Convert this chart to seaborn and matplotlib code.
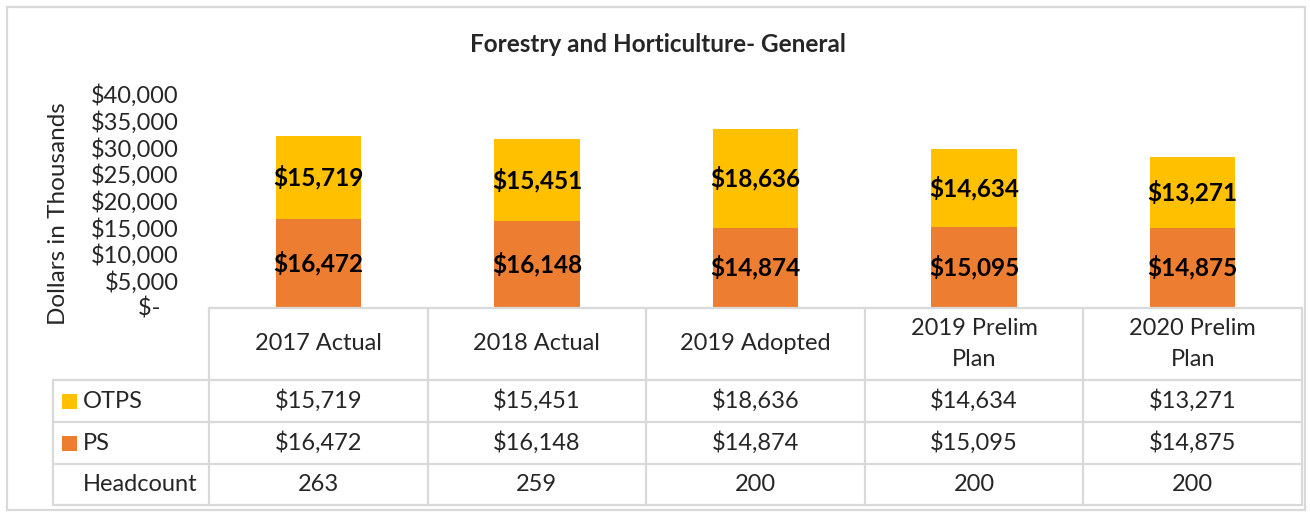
import matplotlib
matplotlib.use("Agg")
import matplotlib.pyplot as plt
import matplotlib.transforms as mtransforms
from matplotlib.lines import Line2D
from matplotlib.patches import Rectangle
import pandas as pd
import seaborn as sns

# data
categories = ["2017 Actual", "2018 Actual", "2019 Adopted", "2019 Prelim\nPlan", "2020 Prelim\nPlan"]
otps = [15719, 15451, 18636, 14634, 13271]
ps = [16472, 16148, 14874, 15095, 14875]
headcount = [263, 259, 200, 200, 200]

OTPS_COLOR = "#FFC000"
PS_COLOR = "#ED7D31"
LINE_COLOR = "#D9D9D9"

sns.set_style("white")
plt.rcParams["font.family"] = ["Lato", "DejaVu Sans"]

df = pd.DataFrame({"cat": categories, "otps": otps, "ps": ps})
df["total"] = df["otps"] + df["ps"]

W, H = 1310, 514
fig = plt.figure(figsize=(W / 100, H / 100), dpi=100)
ax = fig.add_axes([209 / W, 1 - 307 / H, (1302 - 209) / W, 213 / H])

# total bar (yellow) then PS drawn on top (orange)
sns.barplot(data=df, x="cat", y="total", color=OTPS_COLOR, width=0.39,
            saturation=1, ax=ax, linewidth=0)
sns.barplot(data=df, x="cat", y="ps", color=PS_COLOR, width=0.39,
            saturation=1, ax=ax, linewidth=0)

ax.set_ylim(0, 40000)
ax.set_xlim(-0.5, len(categories) - 0.5)
ticks = list(range(0, 40001, 5000))
ax.set_yticks(ticks)
ax.set_yticklabels(["$-   " if t == 0 else f"${t:,}" for t in ticks], fontsize=17)
ax.tick_params(axis="y", length=0, pad=22)
ax.set_xticks([])
ax.set_xlabel("")
ax.set_ylabel("Dollars in Thousands", fontsize=17.5)
ax.yaxis.set_label_coords(-0.128, 0.44)
for s in ax.spines.values():
    s.set_visible(False)

for i in range(len(categories)):
    ax.text(i, ps[i] / 2, f"${ps[i]:,}", ha="center", va="center",
            fontsize=17.5, fontweight="bold", color="black")
    ax.text(i, ps[i] + otps[i] / 2, f"${otps[i]:,}", ha="center", va="center",
            fontsize=17.5, fontweight="bold", color="black")

fig.text(658 / W, 1 - 45 / H, "Forestry and Horticulture- General",
         ha="center", va="center", fontsize=17.5, fontweight="bold")

# data table under the axis
tr = mtransforms.blended_transform_factory(ax.transData, fig.transFigure)
fy = lambda py: 1 - py / H
fx = lambda px: px / W
n = len(categories)
row_y = [308, 380, 422, 464, 505]

def hline(x0, x1, y, transform):
    fig.add_artist(Line2D([x0, x1], [y, y], transform=transform,
                          color=LINE_COLOR, linewidth=1.6))

def vline(x, y0, y1, transform):
    fig.add_artist(Line2D([x, x], [y0, y1], transform=transform,
                          color=LINE_COLOR, linewidth=1.6))

hline(-0.5, n - 0.5, fy(row_y[0]), tr)
for y in row_y[1:]:
    hline(fx(53), fx(1302), fy(y), fig.transFigure)
for i in range(n + 1):
    vline(i - 0.5, fy(row_y[0]), fy(row_y[-1]), tr)
vline(fx(53), fy(row_y[1]), fy(row_y[-1]), fig.transFigure)

rows = [
    ("OTPS", OTPS_COLOR, [f"${v:,}" for v in otps]),
    ("PS", PS_COLOR, [f"${v:,}" for v in ps]),
    ("Headcount", None, [str(v) for v in headcount]),
]
for i, c in enumerate(categories):
    fig.text(i, fy((row_y[0] + row_y[1]) / 2), c, transform=tr, ha="center",
             va="center", fontsize=17, linespacing=1.6)
for r, (name, color, vals) in enumerate(rows):
    yc = fy((row_y[r + 1] + row_y[r + 2]) / 2)
    if color:
        fig.add_artist(Rectangle((fx(62), yc - 7.5 / H), 15 / W, 15 / H,
                                 transform=fig.transFigure, color=color, lw=0))
    fig.text(fx(83), yc, name, ha="left", va="center", fontsize=17)
    for i, v in enumerate(vals):
        fig.text(i, yc, v, transform=tr, ha="center", va="center", fontsize=17)

# outer chart border
fig.add_artist(Rectangle((fx(7), fy(510)), fx(1298), 503 / H, transform=fig.transFigure,
                         fill=False, edgecolor=LINE_COLOR, linewidth=1.6))

fig.savefig("out.png", dpi=100)
